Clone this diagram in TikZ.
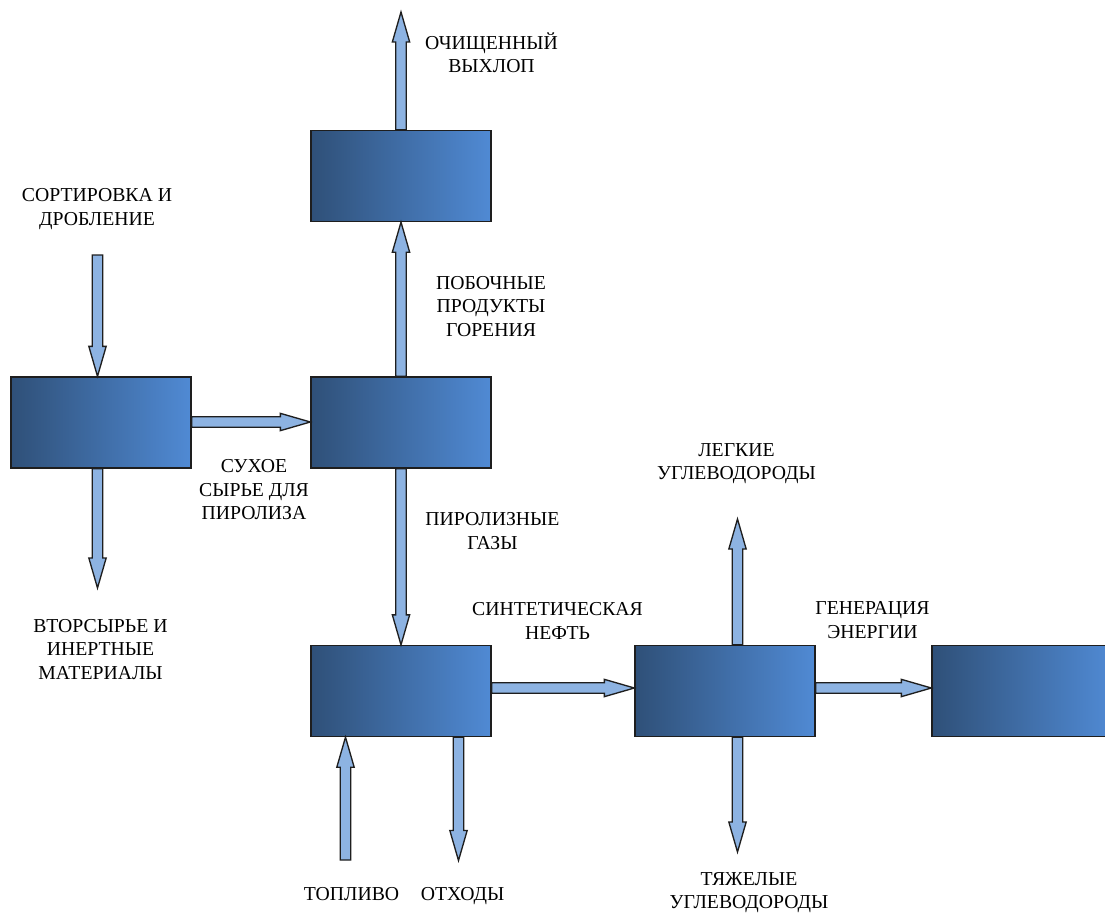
\documentclass[tikz,border=0pt]{standalone}
\usepackage{fontspec}
\setmainfont{Liberation Serif}
\usetikzlibrary{calc}
\definecolor{boxL}{HTML}{2F5078}
\definecolor{boxR}{HTML}{508AD4}
\definecolor{arrF}{HTML}{8DB3E2}
\definecolor{edgec}{HTML}{1E1E1E}
\begin{document}
\begin{tikzpicture}[x=0.75pt,y=-0.75pt,
 proc/.style={draw=edgec, line width=1pt, left color=boxL, right color=boxR,
   minimum width=135pt, minimum height=68.25pt, inner sep=0pt},
 lbl/.style={align=center, font=\fontsize{14.8}{17.6}\selectfont, inner sep=0pt,
   execute at begin node=\strut, execute at end node=\strut},
 barrow/.style={draw=edgec, line width=1pt, fill=arrF, line join=miter,
   to path={let \p1=(\tikztostart), \p2=(\tikztotarget),
     \n1={atan2(\y2-\y1,\x2-\x1)}, \p3=($(\p2)+(\n1:-22.5pt)$) in
     ($(\p1)+(\n1+90:3.9pt)$) -- ($(\p3)+(\n1+90:3.9pt)$) -- ($(\p3)+(\n1+90:6.5pt)$)
     -- (\p2) -- ($(\p3)+(\n1-90:6.5pt)$) -- ($(\p3)+(\n1-90:3.9pt)$)
     -- ($(\p1)+(\n1-90:3.9pt)$) -- cycle}}]
\useasboundingbox (0,0) rectangle (1105,916);
\clip (0,0) rectangle (1105,916);

% boxes
\node[proc] (A) at (101,422.5) {};
\node[proc] (B) at (401,422.5) {};
\node[proc] (C) at (401,176) {};
\node[proc] (D) at (401,691) {};
\node[proc] (E) at (725,691) {};
\node[proc] (F) at (1022,691) {};

% free ends and attachment points
\coordinate (ain) at (97.5,255);
\coordinate (aT) at (A.north -| ain);
\coordinate (aB) at (A.south -| ain);
\coordinate (aout) at (97.5,588);
\coordinate (abR) at (A.east |- 0,422);
\coordinate (abL) at (B.west |- 0,422);
\coordinate (cout) at (401,12);
\coordinate (deR) at (D.east |- 0,688);
\coordinate (deL) at (E.west |- 0,688);
\coordinate (efR) at (E.east |- 0,688);
\coordinate (efL) at (F.west |- 0,688);
\coordinate (fuel) at (345.5,860);
\coordinate (dfuel) at (D.south -| fuel);
\coordinate (waste) at (458.5,860.5);
\coordinate (dwaste) at (D.south -| waste);
\coordinate (eT) at (E.north -| 737.5,0);
\coordinate (eup) at (737.5,519);
\coordinate (eB) at (E.south -| 737.5,0);
\coordinate (edown) at (737.5,852);

% connectors
\draw[barrow] (ain) to (aT);
\draw[barrow] (aB) to (aout);
\draw[barrow] (abR) to (abL);
\draw[barrow] (B.north) to (C.south);
\draw[barrow] (C.north) to (cout);
\draw[barrow] (B.south) to (D.north);
\draw[barrow] (deR) to (deL);
\draw[barrow] (efR) to (efL);
\draw[barrow] (fuel) to (dfuel);
\draw[barrow] (dwaste) to (waste);
\draw[barrow] (eT) to (eup);
\draw[barrow] (eB) to (edown);

% labels
\node[lbl] (l1) at (97,210.3) {СОРТИРОВКА И\\ДРОБЛЕНИЕ};
\node[lbl] (l2) at (491.5,56.3) {ОЧИЩЕННЫЙ\\ВЫХЛОП};
\node[lbl] (l3) at (491,309.8) {ПОБОЧНЫЕ\\ПРОДУКТЫ\\ГОРЕНИЯ};
\node[lbl] (l4) at (254,493.3) {СУХОЕ\\СЫРЬЕ ДЛЯ\\ПИРОЛИЗА};
\node[lbl] (l5) at (100.5,652.8) {ВТОРСЫРЬЕ И\\ИНЕРТНЫЕ\\МАТЕРИАЛЫ};
\node[lbl] (l6) at (492.5,534.3) {ПИРОЛИЗНЫЕ\\ГАЗЫ};
\node[lbl] (l7) at (736.5,465.3) {ЛЕГКИЕ\\УГЛЕВОДОРОДЫ};
\node[lbl] (l8) at (557.5,624.3) {СИНТЕТИЧЕСКАЯ\\НЕФТЬ};
\node[lbl] (l9) at (872.5,623.3) {ГЕНЕРАЦИЯ\\ЭНЕРГИИ};
\node[lbl] (l10) at (351.5,895.3) {ТОПЛИВО};
\node[lbl] (l11) at (462.5,895.3) {ОТХОДЫ};
\node[lbl] (l12) at (749,894.3) {ТЯЖЕЛЫЕ\\УГЛЕВОДОРОДЫ};
\end{tikzpicture}
\end{document}
